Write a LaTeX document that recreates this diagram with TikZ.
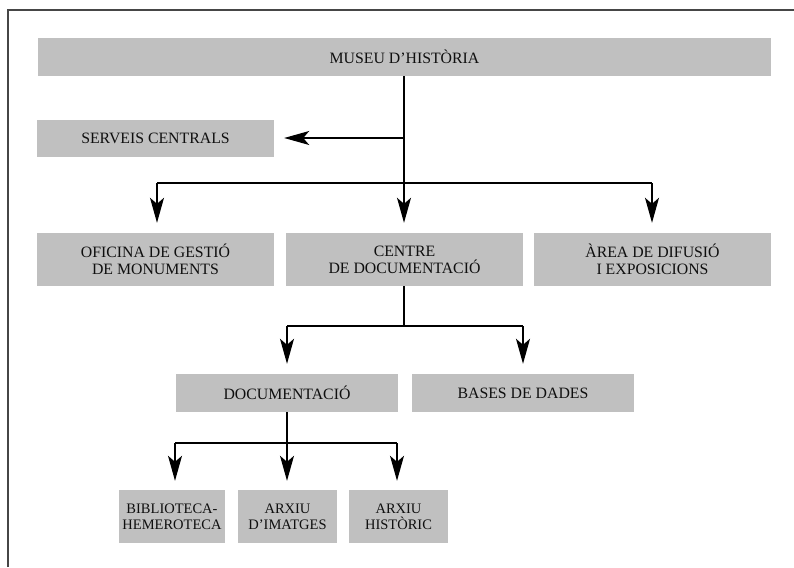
\documentclass[tikz,border=0pt]{standalone}
\usepackage{fontspec}
\setmainfont{Liberation Serif}
\usetikzlibrary{arrows.meta}
\definecolor{boxgray}{RGB}{192,192,192}
\definecolor{txt}{RGB}{15,15,15}
\definecolor{framec}{RGB}{70,70,70}
\begin{document}
\begin{tikzpicture}[x=1pt,y=-1pt,
  box/.style={fill=boxgray,draw=none,inner sep=0pt,align=center,text=txt,
    font=\fontsize{15.8}{16.7}\selectfont},
  smallbox/.style={box,font=\fontsize{14.5}{16}\selectfont},
  conn/.style={line width=1.3pt,black},
  arr/.style={conn,-{Stealth[length=25pt,width=14pt,inset=6pt]}}]
\useasboundingbox (0,0) rectangle (794,567);
\draw[framec,line width=1.2pt] (8,567) -- (8,10) -- (794,10);

\node[box,minimum width=733pt,minimum height=38pt] (museu) at (404.5,57) {MUSEU D’HISTÒRIA};
\node[box,minimum width=237pt,minimum height=37pt] (serveis) at (155.5,138.5) {SERVEIS CENTRALS};
\node[box,minimum width=237pt,minimum height=53pt] (oficina) at (155.5,259.5) {OFICINA DE GESTIÓ\\DE MONUMENTS};
\node[box,minimum width=237pt,minimum height=53pt] (centre) at (404.5,259.5) {CENTRE\\DE DOCUMENTACIÓ};
\node[box,minimum width=237pt,minimum height=53pt] (area) at (652.5,259.5) {ÀREA DE DIFUSIÓ\\I EXPOSICIONS};
\node[box,minimum width=222pt,minimum height=38pt] (doc) at (287,393) {DOCUMENTACIÓ};
\node[box,minimum width=222pt,minimum height=38pt] (bases) at (523,393) {BASES DE DADES};
\node[smallbox,minimum width=106pt,minimum height=53pt] (biblio) at (172,516.5) {BIBLIOTECA-\\HEMEROTECA};
\node[smallbox,minimum width=99pt,minimum height=53pt] (imatges) at (287.5,516.5) {ARXIU\\D’IMATGES};
\node[smallbox,minimum width=99pt,minimum height=53pt] (historic) at (398.5,516.5) {ARXIU\\HISTÒRIC};

% level 1
\coordinate (s1) at (404,138);
\coordinate (h1) at (404,183);
\coordinate (h1l) at (157,183);
\coordinate (h1r) at (652,183);
\draw[arr,shorten >=10pt] (museu.south -| h1) -- (centre.north -| h1);
\draw[arr,shorten >=10pt] (s1) -- (serveis.east |- s1);
\draw[conn] (h1l) -- (h1r);
\draw[arr,shorten >=10pt] (h1l) -- (oficina.north -| h1l);
\draw[arr,shorten >=10pt] (h1r) -- (area.north -| h1r);

% level 2
\coordinate (h2) at (404,326);
\coordinate (h2l) at (287,326);
\coordinate (h2r) at (523,326);
\draw[conn] (centre.south -| h2) -- (h2);
\draw[conn] (h2l) -- (h2r);
\draw[arr,shorten >=10pt] (h2l) -- (doc.north -| h2l);
\draw[arr,shorten >=10pt] (h2r) -- (bases.north -| h2r);

% level 3
\coordinate (h3) at (287,443);
\coordinate (h3l) at (175,443);
\coordinate (h3r) at (397,443);
\draw[conn] (h3l) -- (h3r);
\draw[arr,shorten >=9pt] (doc.south -| h3) -- (imatges.north -| h3);
\draw[arr,shorten >=9pt] (h3l) -- (biblio.north -| h3l);
\draw[arr,shorten >=9pt] (h3r) -- (historic.north -| h3r);
\end{tikzpicture}
\end{document}
